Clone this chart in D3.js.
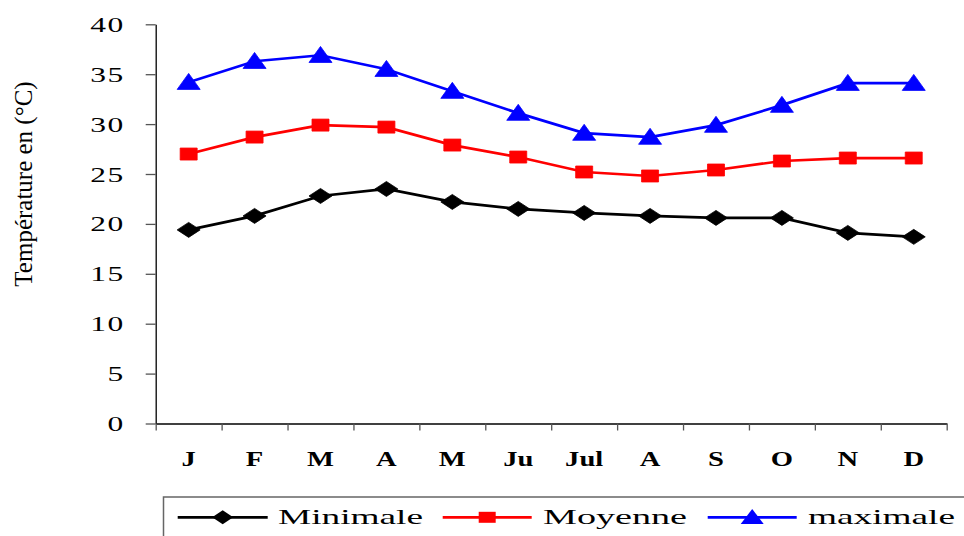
<!DOCTYPE html>
<html><head><meta charset="utf-8">
<script src="https://cdn.jsdelivr.net/npm/d3@7"></script>
<style>
html,body{margin:0;padding:0;background:#fff;}
svg{display:block;font-family:"Liberation Serif","Times New Roman",serif;}
</style></head>
<body><svg id="c" width="964" height="536"></svg>
<script>
const months = ["J","F","M","A","M","Ju","Jul","A","S","O","N","D"];
const minimale = [19.4,20.8,22.8,23.5,22.2,21.5,21.1,20.8,20.6,20.6,19.1,18.7];
const moyenne  = [27.0,28.7,29.9,29.7,27.9,26.7,25.2,24.8,25.4,26.3,26.6,26.6];
const maximale = [34.2,36.3,36.9,35.5,33.3,31.1,29.1,28.7,29.9,31.9,34.1,34.1];
const yTicks = [0,5,10,15,20,25,30,35,40];
const seriesNames = ["Minimale","Moyenne","maximale"];

const svg = d3.select("#c");
const L = 155.7, R = 946.7, T = 24.3, B = 423.5;
const idx = months.map((d,i)=>i);
const x = d3.scaleBand().domain(idx).range([L,R]);
const xEdge = d3.scaleLinear().domain([0,12]).range([L,R]);
const y = d3.scaleLinear().domain([0,40]).range([B,T]);

// y axis
const ya = svg.append("g").attr("transform",`translate(${L},0)`)
  .call(d3.axisLeft(y).tickValues(yTicks).tickSize(10).tickSizeOuter(0).tickFormat(d=>d));
ya.select(".domain").attr("stroke","#000").attr("stroke-width",1.3);
ya.selectAll(".tick line").attr("stroke","#555").attr("stroke-width",1.3);
ya.selectAll(".tick text").attr("x",null).attr("dy",null)
  .attr("text-anchor","end").attr("font-size",21).attr("fill","#000")
  .attr("font-family","Liberation Serif").attr("letter-spacing","1px")
  .attr("transform","translate(-31,7) scale(1.5,1)");

// x axis edge ticks
const xe = svg.append("g").attr("transform",`translate(0,${B})`)
  .call(d3.axisBottom(xEdge).tickValues(d3.range(13)).tickSize(7).tickSizeOuter(0).tickFormat(""));
xe.select(".domain").attr("stroke","#000").attr("stroke-width",1.3);
xe.selectAll(".tick line").attr("stroke","#555").attr("stroke-width",1.3);
// x labels
const xl = svg.append("g").attr("transform",`translate(0,${B})`)
  .call(d3.axisBottom(x).tickSize(0).tickFormat(i=>months[i]));
xl.select(".domain").remove();
xl.selectAll(".tick text").attr("y",null).attr("dy",null)
  .attr("font-size",22).attr("font-weight","bold").attr("fill","#000")
  .attr("font-family","Liberation Serif")
  .attr("transform","translate(0,42) scale(1.3,1)");

// y title
svg.append("text").attr("transform","translate(32,184) rotate(-90)")
  .attr("text-anchor","middle").attr("font-size",25).attr("fill","#000")
  .text("Température en (°C)");

// markers
function diamond(w,h){return `M0,${-h/2}L${w/2},0L0,${h/2}L${-w/2},0Z`;}
function square(w,h){return `M${-w/2},${-h/2}h${w}v${h}h${-w}Z`;}
function triangle(w,h){return `M0,${-h*0.55}L${w/2},${h*0.45}L${-w/2},${h*0.45}Z`;}
const series = [
  {name:seriesNames[0], values:minimale, color:"#000000", shape:diamond(23,15)},
  {name:seriesNames[1], values:moyenne, color:"#ff0000", shape:square(17,12)},
  {name:seriesNames[2], values:maximale, color:"#0000ff", shape:triangle(23,16)}
];
const line = d3.line().x((d,i)=>x(i)+x.bandwidth()/2).y(d=>y(d));
series.forEach(s=>{
  svg.append("path").datum(s.values).attr("d",line)
    .attr("fill","none").attr("stroke",s.color).attr("stroke-width",2.7);
  svg.append("g").selectAll("path").data(s.values).join("path")
    .attr("d",s.shape).attr("fill",s.color)
    .attr("stroke",s.color).attr("stroke-width",0.8).attr("stroke-linejoin","round")
    .attr("transform",(d,i)=>`translate(${x(i)+x.bandwidth()/2},${y(d)})`);
});

// legend
svg.append("rect").attr("x",163.5).attr("y",497).attr("width",820).attr("height",60)
  .attr("fill","#fff").attr("stroke","#666").attr("stroke-width",1.5);
const legX = [[177.7,267.7,278,145],[442.7,531.7,543,144],[707.7,796.7,808,147]];
const legShapes = [diamond(21,14),square(17,11),triangle(23,15)];
series.forEach((s,i)=>{
  const [x0,x1,tx,tw] = legX[i];
  const g = svg.append("g");
  g.append("line").attr("x1",x0).attr("x2",x1).attr("y1",517.3).attr("y2",517.3)
    .attr("stroke",s.color).attr("stroke-width",2.7);
  g.append("path").attr("d",legShapes[i]).attr("fill",s.color)
    .attr("transform",`translate(${(x0+x1)/2},517.3)`);
  g.append("text").attr("x",tx).attr("y",524).attr("font-size",22).attr("fill","#000")
    .attr("textLength",tw).attr("lengthAdjust","spacingAndGlyphs").text(s.name);
});
</script></body></html>
